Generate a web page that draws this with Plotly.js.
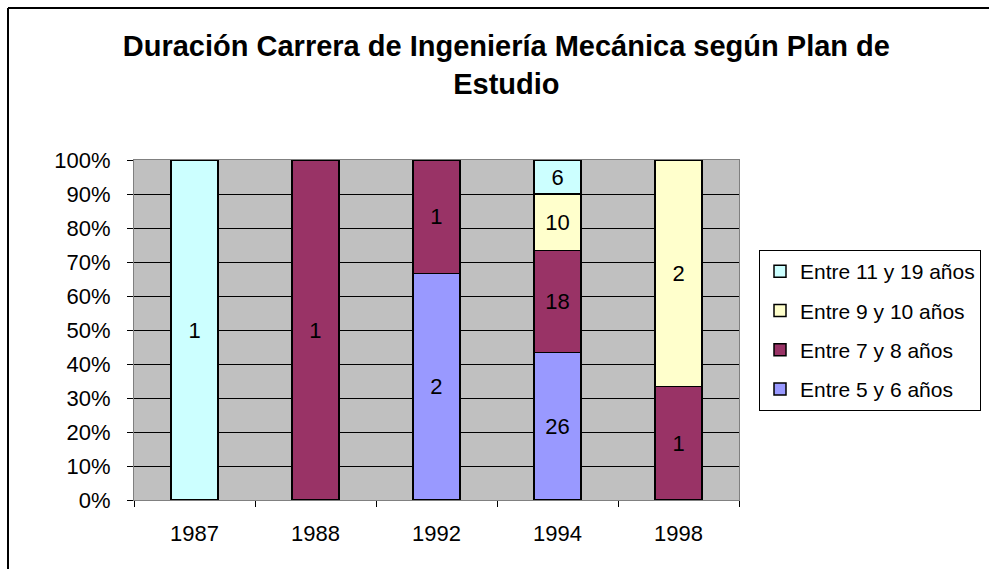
<!DOCTYPE html>
<html>
<head>
<meta charset="utf-8">
<script src="https://cdn.plot.ly/plotly-3.0.1.min.js"></script>
<style>html,body{margin:0;padding:0;background:#fff;}#chart{width:989px;height:569px;}</style>
</head>
<body>
<div id="chart"></div>
<script>
var categories = ['1987', '1988', '1992', '1994', '1998'];
var seriesNames = ['Entre 5 y 6 años', 'Entre 7 y 8 años', 'Entre 9 y 10 años', 'Entre 11 y 19 años'];
var s5a6 = [null, null, 2, 26, null];
var s7a8 = [null, 1, 1, 18, 1];
var s9a10 = [null, null, null, 10, 2];
var s11a19 = [1, null, null, 6, null];
var yTickVals = [0, 10, 20, 30, 40, 50, 60, 70, 80, 90, 100];
var yTickText = ['0%', '10%', '20%', '30%', '40%', '50%', '60%', '70%', '80%', '90%', '100%'];
var titleText = 'Duración Carrera de Ingeniería Mecánica según Plan de<br>Estudio';

var colors = ['#9999FF', '#993366', '#FFFFCC', '#CCFFFF'];
var allSeries = [s5a6, s7a8, s9a10, s11a19];
var FONT = '"Liberation Sans", Arial, sans-serif';

var traces = allSeries.map(function (vals, i) {
  return {
    type: 'bar',
    name: seriesNames[i],
    legendgroup: 'g' + i,
    legendrank: 10 - i,
    x: categories,
    y: vals,
    text: vals.map(function (v) { return v == null ? '' : String(v); }),
    textposition: 'inside',
    insidetextanchor: 'middle',
    textangle: 0,
    constraintext: 'none',
    textfont: { family: FONT, size: 22, color: '#000000' },
    marker: { color: colors[i], line: { color: '#000000', width: 1.5 } },
    hoverinfo: 'skip'
  };
});

var M = { l: 134, r: 250, t: 160, b: 69, autoexpand: false };
var pw = 989 - M.l - M.r, ph = 569 - M.t - M.b;
function px(x) { return (x - M.l) / pw; }
function py(y) { return (569 - M.b - y) / ph; }

var layout = {
  width: 989, height: 569,
  margin: M,
  paper_bgcolor: '#ffffff',
  plot_bgcolor: '#C0C0C0',
  barmode: 'stack',
  barnorm: 'percent',
  bargap: 0.61,
  font: { family: FONT, color: '#000000', size: 22 },
  title: {
    text: titleText,
    font: { family: FONT, size: 29, color: '#000000', weight: 'bold' },
    xref: 'container', x: 0.512, xanchor: 'center',
    yref: 'container', y: 1 - 56 / 569, yanchor: 'top'
  },
  xaxis: {
    type: 'category',
    showgrid: false,
    ticks: 'outside', tickson: 'boundaries', ticklen: 6, tickcolor: '#000000', tickwidth: 1,
    showline: true, linecolor: '#808080', linewidth: 1, mirror: true,
    tickfont: { family: FONT, size: 22, color: '#000000' },
    ticklabelstandoff: 14,
    fixedrange: true
  },
  yaxis: {
    range: [0, 100],
    tickvals: yTickVals, ticktext: yTickText,
    showgrid: true, gridcolor: '#000000', gridwidth: 1,
    ticks: 'outside', ticklen: 6, tickcolor: '#000000', tickwidth: 1,
    showline: true, linecolor: '#808080', linewidth: 1, mirror: true,
    zeroline: false,
    tickfont: { family: FONT, size: 22, color: '#000000' },
    ticklabelstandoff: 12,
    fixedrange: true
  },
  showlegend: true,
  legend: {
    x: px(759), xanchor: 'left',
    y: py(250), yanchor: 'top',
    traceorder: 'grouped',
    tracegroupgap: 9,
    itemwidth: 30,
    bgcolor: '#ffffff',
    bordercolor: '#000000', borderwidth: 1,
    font: { family: FONT, size: 21, color: '#000000' }
  },
  shapes: [
    { type: 'line', xref: 'paper', yref: 'paper', x0: px(8), x1: px(995), y0: py(8), y1: py(8), line: { color: '#000000', width: 2 } },
    { type: 'line', xref: 'paper', yref: 'paper', x0: px(8), x1: px(8), y0: py(8), y1: py(575), line: { color: '#000000', width: 2 } }
  ]
};

Plotly.newPlot('chart', traces, layout, { displayModeBar: false, staticPlot: true });
</script>
</body>
</html>
